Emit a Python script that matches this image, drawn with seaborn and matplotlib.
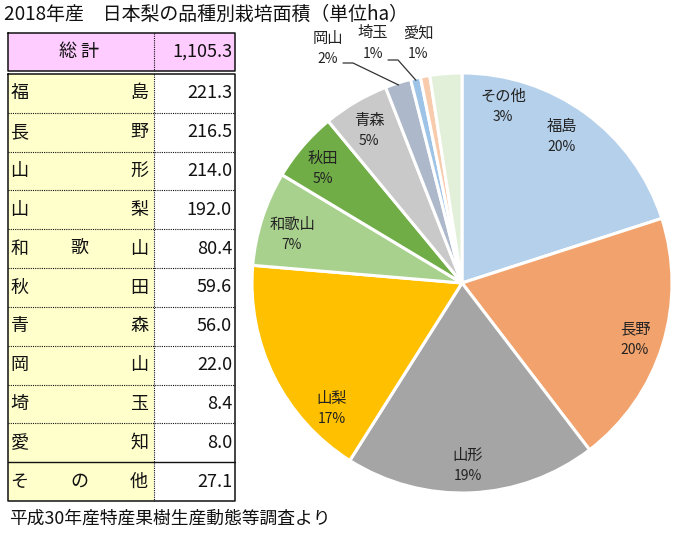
import matplotlib
matplotlib.use("Agg")
import matplotlib.pyplot as plt
import seaborn as sns
import numpy as np
from matplotlib.patches import Rectangle

# ---- data ----
title = "2018年産　日本梨の品種別栽培面積（単位ha）"
footer = "平成30年産特産果樹生産動態等調査より"
total_label = "総 計"
total_value = "1,105.3"
prefectures = ["福島", "長野", "山形", "山梨", "和歌山", "秋田", "青森", "岡山", "埼玉", "愛知", "その他"]
areas = [221.3, 216.5, 214.0, 192.0, 80.4, 59.6, 56.0, 22.0, 8.4, 8.0, 27.1]
pct_labels = ["20%", "20%", "19%", "17%", "7%", "5%", "5%", "2%", "1%", "1%", "3%"]
colors = ["#B4D0EA", "#F2A36D", "#A5A5A5", "#FFC000", "#A9D18E", "#70AD47",
          "#C9C9C9", "#ADB9CA", "#9DC3E6", "#F8CBAD", "#E2F0D9"]

sns.set_theme(style="white")
FAM = ["Noto Sans CJK JP", "DejaVu Sans"]
plt.rcParams["font.family"] = FAM

W, H = 683, 534
fig = plt.figure(figsize=(W / 100, H / 100), dpi=100)
fig.patch.set_facecolor("white")

# ---- pie ----
CX, CY, R = 462, 283, 210
pax = fig.add_axes([(CX - R) / W, (H - CY - R) / H, 2 * R / W, 2 * R / H])
pal = sns.color_palette(colors)
pax.pie(areas, colors=pal, startangle=90, counterclock=False, radius=1,
        wedgeprops=dict(edgecolor="white", linewidth=2.2))
pax.set_xlim(-1, 1)
pax.set_ylim(-1, 1)
pax.axis("off")

# ---- overlay in pixel coords ----
ov = fig.add_axes([0, 0, 1, 1])
ov.set_xlim(0, W)
ov.set_ylim(H, 0)
ov.axis("off")
ov.patch.set_alpha(0)

# pie labels (name, pct) positions in pixels
label_pos = [(562, 126), (635, 329), (468, 455), (332, 398), (292, 224),
             (323, 158), (369, 120), (328, 38), (373, 33), (418, 33), (503, 96)]
for i, (name, pct) in enumerate(zip(prefectures, pct_labels)):
    x, y = label_pos[i]
    dy = 21
    ov.text(x, y, name, ha="center", va="center", fontsize=11, color="#222222")
    ov.text(x, y + dy, pct, ha="center", va="center", fontsize=10, color="#222222")

# leader lines for small slices
tot = sum(areas)
cum = np.cumsum([0] + areas)
def edge_pt(i, r=1.0):
    mid = (cum[i] + areas[i] / 2) / tot
    ang = np.deg2rad(90 - 360 * mid)
    return CX + R * r * np.cos(ang), CY - R * r * np.sin(ang)

for i, (sx, sy) in [(7, (343, 63)), (8, (388, 60))]:
    ex, ey = edge_pt(i, 0.99)
    ov.plot([sx, sx + 10, ex], [sy, sy, ey], color="#333333", lw=0.9)

# ---- title & footer ----
ov.text(4, 14, title, ha="left", va="center", fontsize=13.6, color="#111111")
ov.text(9, 519, footer, ha="left", va="center", fontsize=12.8, color="#111111")

# ---- table ----
TL, TM, TR = 8, 154, 235
HT, HB = 33, 71
RT, RB = 74, 501
n = len(prefectures)
rh = (RB - RT) / n

ov.add_patch(Rectangle((TL, HT), TR - TL, HB - HT, facecolor="#FFCCFF", edgecolor="none"))
ov.add_patch(Rectangle((TL, RT), TM - TL, RB - RT, facecolor="#FFFFCC", edgecolor="none"))
ov.add_patch(Rectangle((TM, RT), TR - TM, RB - RT, facecolor="white", edgecolor="none"))

blk = "#111111"
# header border
ov.plot([TL, TR, TR, TL, TL], [HT, HT, HB, HB, HT], color=blk, lw=1.1)
ov.plot([TM, TM], [HT, HB], color=blk, lw=0.8, ls=(0, (1, 1)))
# body border
ov.plot([TL, TR, TR, TL, TL], [RT, RT, RB, RB, RT], color=blk, lw=1.1)
ov.plot([TM, TM], [RT, RB], color=blk, lw=0.8, ls=(0, (1, 1)))
for k in range(1, n):
    y = RT + k * rh
    if k == n - 1:
        ov.plot([TL, TR], [y, y], color=blk, lw=1.0)
    else:
        ov.plot([TL, TR], [y, y], color=blk, lw=0.8, ls=(0, (1, 1)))

ov.text(79, (HT + HB) / 2, total_label, ha="center", va="center", fontsize=13, color=blk)
ov.text(232, (HT + HB) / 2, total_value, ha="right", va="center", fontsize=13, color=blk)

for k, (name, val) in enumerate(zip(prefectures, areas)):
    yc = RT + (k + 0.5) * rh
    chars = list(name)
    xs = np.linspace(19.5, 139, len(chars))
    for ch, xc in zip(chars, xs):
        ov.text(xc, yc, ch, ha="center", va="center", fontsize=13, color=blk)
    ov.text(232, yc, f"{val:.1f}", ha="right", va="center", fontsize=13, color=blk)

fig.savefig("out.png", dpi=100, facecolor="white")
